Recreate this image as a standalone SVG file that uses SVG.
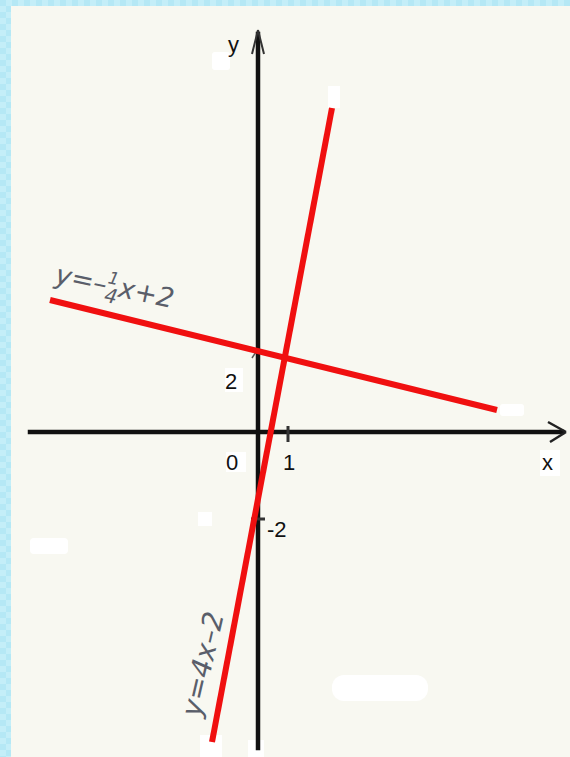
<svg xmlns="http://www.w3.org/2000/svg" width="570" height="757" viewBox="0 0 570 757">
<defs>
<pattern id="chk" width="12" height="12" patternUnits="userSpaceOnUse">
<rect width="12" height="12" fill="#c4eef8"/>
<rect width="6" height="6" fill="#b5e8f5"/>
<rect x="6" y="6" width="6" height="6" fill="#b5e8f5"/>
</pattern>
<style>
.ax{stroke:#111;stroke-width:4.5;fill:none;stroke-linecap:square}
.rd{stroke:#f01010;stroke-width:6;fill:none;stroke-linecap:butt}
.lb{font-family:"Liberation Sans",Arial,sans-serif;font-size:22px;fill:#111}
.hw{font-family:"DejaVu Sans",sans-serif;font-style:italic;fill:#5a5e6a}
.wp{fill:#ffffff}
</style>
</defs>
<rect width="570" height="757" fill="url(#chk)"/>
<rect x="11" y="6" width="559" height="751" fill="#f8f8f1"/>
<g id="patches">
<rect class="wp" x="212" y="52" width="18" height="18" rx="3"/>
<rect class="wp" x="30" y="538" width="38" height="16" rx="4"/>
<rect class="wp" x="332" y="675" width="96" height="26" rx="12"/>
<rect class="wp" x="500" y="404" width="24" height="12" rx="3"/>
<rect class="wp" x="226" y="452" width="20" height="20"/>
<rect class="wp" x="540" y="450" width="20" height="26"/>
<rect class="wp" x="225" y="368" width="18" height="24"/>
<rect class="wp" x="200" y="735" width="22" height="22"/>
<rect class="wp" x="248" y="740" width="16" height="17"/>
<rect class="wp" x="328" y="86" width="12" height="22"/>
<rect class="wp" x="198" y="512" width="14" height="14"/>
</g>
<g id="axes">
<line class="ax" x1="258" y1="34" x2="258" y2="748"/>
<line class="ax" x1="30" y1="432" x2="562" y2="432"/>
<path d="M258 30 L252 54 M258 30 L264 54" stroke="#333" stroke-width="2" fill="none"/>
<path d="M566 432 L548 422 M566 432 L550 442" stroke="#222" stroke-width="2.5" fill="none"/>
<line x1="288" y1="426" x2="288" y2="442" stroke="#333" stroke-width="3"/>
<line x1="251" y1="519" x2="265" y2="519" stroke="#333" stroke-width="3"/>
<line x1="252" y1="358" x2="256" y2="352" stroke="#555" stroke-width="1.5"/>
</g>
<g id="connectors">
<line id="line1" class="rd" x1="50" y1="300" x2="497" y2="410"/>
<line id="line2" class="rd" x1="332" y1="108" x2="212" y2="742"/>
</g>
<g id="labels">
<text class="lb" x="228" y="52">y</text>
<text class="lb" x="542" y="470">x</text>
<text class="lb" x="226" y="470">0</text>
<text class="lb" x="283" y="470">1</text>
<text class="lb" x="225" y="389">2</text>
<text class="lb" x="267" y="537">-2</text>
</g>
<g id="eq1" transform="translate(54,283) rotate(12)">
<text class="hw" font-size="27">y=–<tspan font-size="17" dy="-11">1</tspan><tspan font-size="20" dx="-11" dy="19">4</tspan><tspan dy="-8">x+2</tspan></text>
</g>
<g id="eq2" transform="translate(200,718) rotate(-77)">
<text class="hw" font-size="28">y=4x–2</text>
</g>
</svg>
